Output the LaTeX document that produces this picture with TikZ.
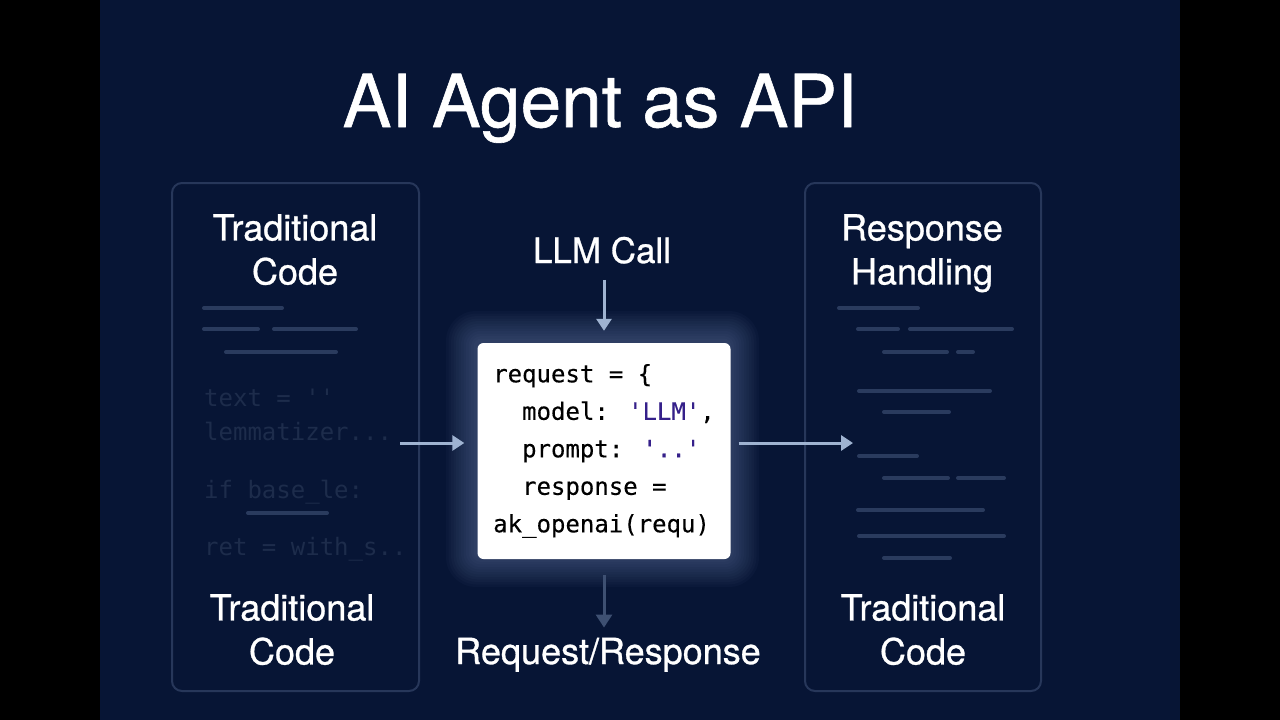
\documentclass[tikz,border=0pt]{standalone}
\usepackage{fontspec}
\setmainfont{TeX Gyre Heros}
\newfontfamily\headfont[FakeBold=0.8]{TeX Gyre Heros}
\newfontfamily\codefont[FakeBold=0.3]{DejaVu Sans Mono}
\newfontfamily\ghostfont{DejaVu Sans Mono}
\usetikzlibrary{arrows.meta,positioning,calc}

\definecolor{bgnavy}{HTML}{071535}
\definecolor{panelline}{HTML}{27375A}
\definecolor{faintcode}{HTML}{1D2C4B}
\definecolor{barcol}{HTML}{2A3B5E}
\definecolor{arrowblue}{HTML}{9FB3D1}
\definecolor{arrowdim}{HTML}{3E5072}
\definecolor{glowcol}{HTML}{8FA6D6}
\definecolor{strpurple}{HTML}{35208A}

\begin{document}
\begin{tikzpicture}[x=1pt,y=-1pt,
    panel/.style={draw=panelline, line width=2pt, rounded corners=10pt},
    heading/.style={text=white, font=\headfont\fontsize{36}{44}\selectfont, align=center, inner sep=0pt},
    ghost/.style={text=faintcode, font=\ghostfont\fontsize{24}{34}\selectfont, inner sep=0pt, anchor=base west},
    bar/.style={draw=barcol, line width=4pt, line cap=round},
    flow/.style={draw=arrowblue, line width=3pt, -{Triangle[length=12pt,width=15pt]}},
    dimflow/.style={draw=arrowdim, line width=3pt, -{Triangle[length=13pt,width=16pt]}}]

    % Background and side bars
    \fill[black] (0,0) rectangle (1280,720);
    \fill[bgnavy] (100,0) rectangle (1180,720);
    \useasboundingbox (0,0) rectangle (1280,720);

    % Title
    \node[text=white, font=\headfont\fontsize{73}{80}\selectfont, anchor=base, inner sep=0pt]
        (title) at (600,127) {AI Agent as API};

    % Side panels
    \draw[panel] (172,183) rectangle (419,691);
    \draw[panel] (805,183) rectangle (1041,691);

    % Panel headings
    \node[heading, anchor=north] (tradtop) at (295,214) {Traditional\\Code};
    \node[heading, anchor=north] (handling) at (922,214) {Response\\Handling};
    \node[heading, anchor=north] (tradbotL) at (292,594) {Traditional\\Code};
    \node[heading, anchor=north] (tradbotR) at (923,594) {Traditional\\Code};

    % Faded code lines, left panel
    \foreach \xa/\xb/\y in {204/282/308, 204/258/329, 274/356/329, 226/336/352, 248/327/513}
        \draw[bar] (\xa,\y) -- (\xb,\y);
    \node[ghost] (gl1) at (204,406) {text = ''};
    \node[ghost] (gl2) at (204,440) {lemmatizer...};
    \node[ghost] (gl3) at (204,498) {if base\_le:};
    \node[ghost] (gl4) at (204,555) {ret = with\_s..};

    % Faded code lines, right panel
    \foreach \xa/\xb/\y in {839/918/308, 858/898/329, 910/1012/329, 884/947/352,
                            958/973/352, 859/990/391, 884/949/412, 859/917/456,
                            884/948/478, 958/1004/478, 858/983/510, 859/1004/536,
                            884/950/558}
        \draw[bar] (\xa,\y) -- (\xb,\y);

    % Glow behind the request box
    \foreach \g in {1,...,12}
        \fill[glowcol, fill opacity=0.03, rounded corners=6pt+\g*2pt]
            (476-\g*2.5,341-\g*2.5) rectangle (729+\g*2.5,557+\g*2.5);

    % Request box
    \node[fill=white, rounded corners=6pt, minimum width=253pt, minimum height=216pt,
          inner sep=0pt, align=left, font=\codefont\fontsize{24}{37.5}\selectfont]
        (code) at (604,451) {request = \{\\
        \ \ model: \textcolor{strpurple}{'LLM'},\\
        \ \ prompt: \textcolor{strpurple}{'..'}\\
        \ \ response =\\
        ak\_openai(requ)};

    % Labels above and below
    \node[text=white, font=\headfont\fontsize{35}{40}\selectfont, anchor=base, inner sep=0pt]
        (llm) at (602,263) {LLM Call};
    \node[text=white, font=\headfont\fontsize{36}{40}\selectfont, anchor=base, inner sep=0pt]
        (reqresp) at (608,664) {Request/Response};

    % Connectors
    \coordinate (inL) at (400,443);
    \coordinate (outR) at (853,443);
    \draw[flow, shorten <=16pt, shorten >=12pt] (llm.south -| code.north) -- (code.north);
    \draw[dimflow, shorten <=16pt, shorten >=10pt] (code.south) -- (code.south |- reqresp.north);
    \draw[flow, shorten >=13pt] (inL) -- (inL -| code.west);
    \draw[flow, shorten <=8pt] (outR -| code.east) -- (outR);

\end{tikzpicture}
\end{document}
